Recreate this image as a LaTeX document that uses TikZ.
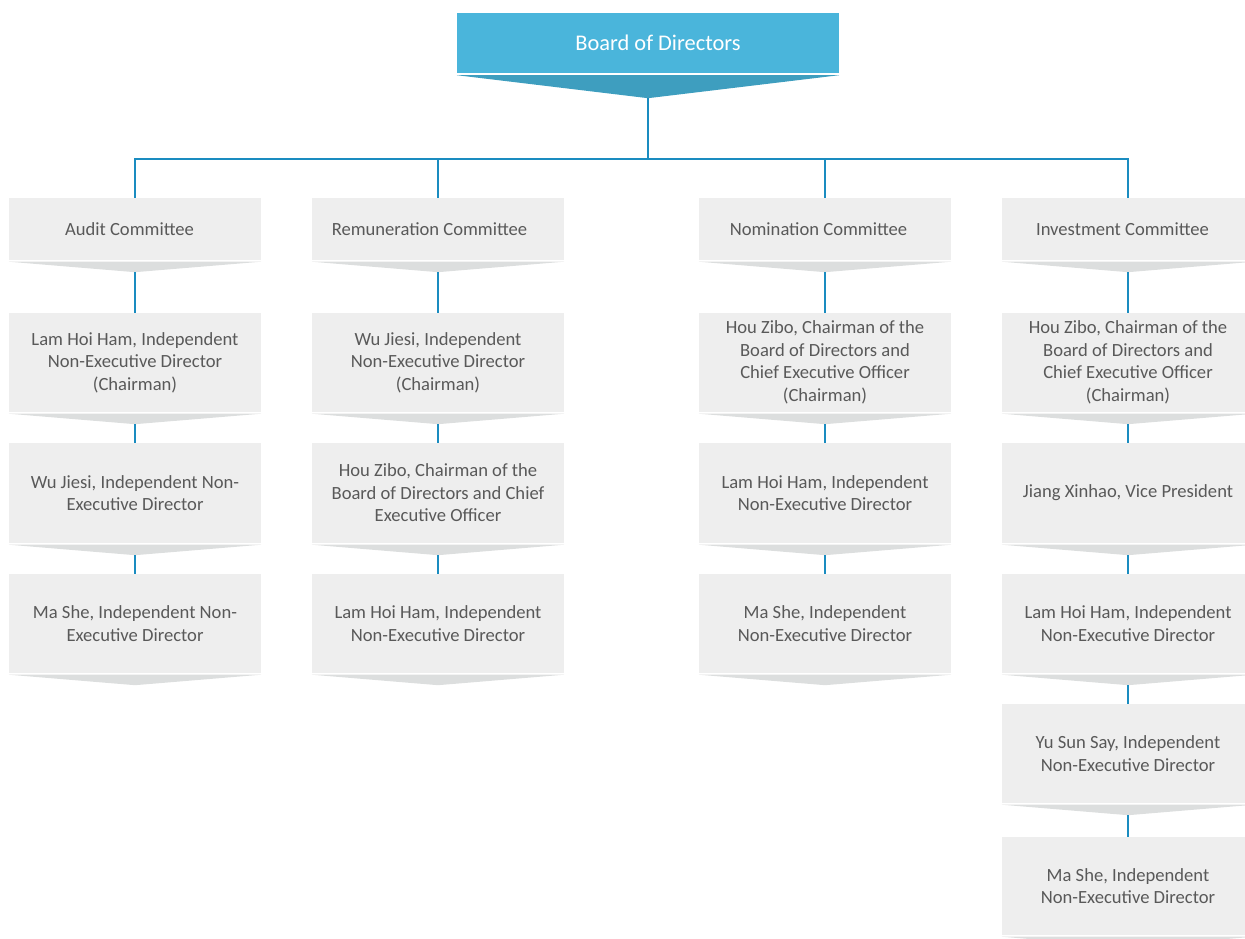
\documentclass[tikz,border=0pt]{standalone}
\usepackage{fontspec}
\setmainfont{Carlito}
\definecolor{boardblue}{HTML}{4AB5DB}
\definecolor{boardchev}{HTML}{3E9EBF}
\definecolor{boxgray}{HTML}{EEEEEE}
\definecolor{chevgray}{HTML}{DCDEDE}
\definecolor{linkblue}{HTML}{1A8CC0}
\definecolor{txtgray}{HTML}{595959}
\tikzset{
  member/.style={rectangle, fill=boxgray, minimum width=252pt, inner sep=0pt,
    align=center, text=txtgray, font=\fontsize{18.6}{22.5}\selectfont},
  boardbox/.style={rectangle, fill=boardblue, minimum width=382pt, minimum height=60pt,
    inner sep=0pt, text=white, font=\fontsize{22.4}{26}\selectfont},
  link/.style={draw=linkblue, line width=2pt},
  tree/.style={draw=linkblue, line width=1.6pt},
}
\newcommand\orgbox[5]{%
  \node[member, minimum height=#4pt] (#1) at (#2,#3+#4/2) {#5};
  \fill[chevgray] ([yshift=-1.5pt]#1.south west) -- ([yshift=-1.5pt]#1.south east)
     -- ([yshift=-12pt]#1.south) -- cycle;
  \coordinate (#1t) at ([yshift=-12pt]#1.south);
}
\begin{document}
\begin{tikzpicture}[x=1pt,y=-1pt]
\useasboundingbox (0,0) rectangle (1245,939);
\clip (0,0) rectangle (1245,939);
% board
\node[boardbox] (board) at (648,43) {\hspace*{20pt}Board of Directors};
\fill[boardchev] ([yshift=-2pt]board.south west) -- ([yshift=-2pt]board.south east)
   -- ([yshift=-25pt]board.south) -- cycle;
\coordinate (boardt) at ([yshift=-25pt]board.south);
\coordinate (hub) at (648,159);
% committees
\orgbox{c1}{135}{198}{62}{\hspace*{-11pt}Audit Committee}
\orgbox{c2}{438}{198}{62}{\hspace*{-17pt}Remuneration Committee}
\orgbox{c3}{825}{198}{62}{\hspace*{-13pt}Nomination Committee}
\orgbox{c4}{1128}{198}{62}{\hspace*{-11pt}Investment Committee}
% tree
\draw[tree] (boardt) -- (boardt |- hub);
\draw[tree] (c1.north) -- (c1.north |- hub) -- (c4.north |- hub) -- (c4.north);
\draw[tree] (c2.north) -- (c2.north |- hub);
\draw[tree] (c3.north) -- (c3.north |- hub);
% audit
\orgbox{a1}{135}{313}{99}{Lam Hoi Ham, Independent\\Non-Executive Director\\(Chairman)}
\orgbox{a2}{135}{443}{100}{Wu Jiesi, Independent Non-\\Executive Director}
\orgbox{a3}{135}{574}{99}{Ma She, Independent Non-\\Executive Director}
% remuneration
\orgbox{r1}{438}{313}{99}{Wu Jiesi, Independent\\Non-Executive Director\\(Chairman)}
\orgbox{r2}{438}{443}{100}{Hou Zibo, Chairman of the\\Board of Directors and Chief\\Executive Officer}
\orgbox{r3}{438}{574}{99}{Lam Hoi Ham, Independent\\Non-Executive Director}
% nomination
\orgbox{n1}{825}{313}{99}{Hou Zibo, Chairman of the\\Board of Directors and\\Chief Executive Officer\\(Chairman)}
\orgbox{n2}{825}{443}{100}{Lam Hoi Ham, Independent\\Non-Executive Director}
\orgbox{n3}{825}{574}{99}{Ma She, Independent\\Non-Executive Director}
% investment
\orgbox{i1}{1128}{313}{99}{Hou Zibo, Chairman of the\\Board of Directors and\\Chief Executive Officer\\(Chairman)}
\orgbox{i2}{1128}{443}{100}{Jiang Xinhao, Vice President}
\orgbox{i3}{1128}{574}{99}{Lam Hoi Ham, Independent\\Non-Executive Director}
\orgbox{i4}{1128}{704}{99}{Yu Sun Say, Independent\\Non-Executive Director}
\orgbox{i5}{1128}{837}{98}{Ma She, Independent\\Non-Executive Director}
% links
\draw[link] (c1t) -- (a1.north);
\draw[link] (a1t) -- (a2.north);
\draw[link] (a2t) -- (a3.north);
\draw[link] (c2t) -- (r1.north);
\draw[link] (r1t) -- (r2.north);
\draw[link] (r2t) -- (r3.north);
\draw[link] (c3t) -- (n1.north);
\draw[link] (n1t) -- (n2.north);
\draw[link] (n2t) -- (n3.north);
\draw[link] (c4t) -- (i1.north);
\draw[link] (i1t) -- (i2.north);
\draw[link] (i2t) -- (i3.north);
\draw[link] (i3t) -- (i4.north);
\draw[link] (i4t) -- (i5.north);
\end{tikzpicture}
\end{document}
